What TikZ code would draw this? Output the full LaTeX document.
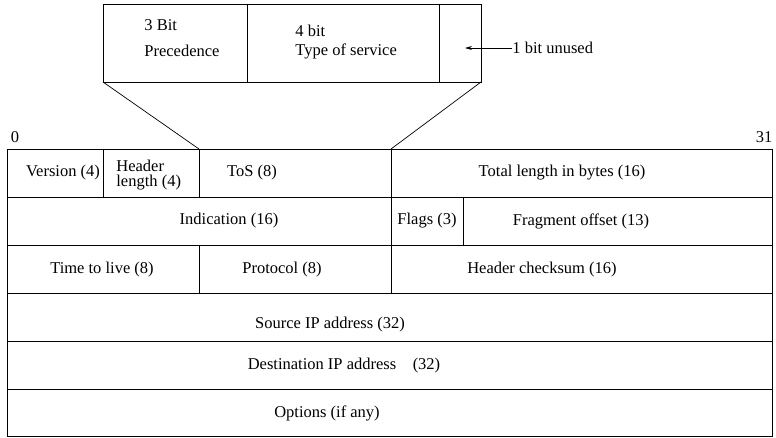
\documentclass[tikz,border=0pt]{standalone}
\usepackage{fontspec}
\setmainfont{Liberation Serif}
\newfontfamily\hdrfont{Liberation Serif}
\usetikzlibrary{arrows.meta}
\begin{document}
\begin{tikzpicture}[x=1pt,y=-1pt,line width=0.8pt,
  lbl/.style={font=\hdrfont\fontsize{16.5}{19}\selectfont, inner sep=0pt, anchor=center},
  lblw/.style={lbl, anchor=west},
  zoomline/.style={line width=0.7pt},
  pointer/.style={line width=0.8pt, -{Stealth[length=7pt,width=4pt]}}]
\useasboundingbox (0,0) rectangle (776,437);

% main header table
\draw (7,149) rectangle (772,436);
\foreach \yy in {197,245,293,341,389} \draw (7,\yy) -- (772,\yy);
\draw (103,149) -- (103,197);
\draw (199,149) -- (199,197);
\draw (391,149) -- (391,197);
\draw (391,197) -- (391,245);
\draw (463,197) -- (463,245);
\draw (199,245) -- (199,293);
\draw (391,245) -- (391,293);

% ToS expansion box
\draw (103,4) rectangle (481,82);
\draw (247,4) -- (247,82);
\draw (439,4) -- (439,82);

\coordinate (boxBL) at (103,82);
\coordinate (boxBR) at (481,82);
\coordinate (tosL) at (199,149);
\coordinate (tosR) at (391,149);
\draw[zoomline] (boxBL) -- (tosL);
\draw[zoomline] (boxBR) -- (tosR);

% labels top box
\node[lblw] (b3) at (144,25) {3 Bit};
\node[lblw] (prec) at (144,51) {Precedence};
\node[lblw] (b4) at (295,31) {4 bit};
\node[lblw] (tos4) at (295,51) {Type of service};
\node[lblw] (unused) at (512,48) {1 bit unused};
\coordinate (unusedTip) at (465,48);
\draw[pointer] (unused.west) -- (unusedTip);

% bit numbers
\node[lbl] (zero) at (15,137) {0};
\node[lbl] (thirtyone) at (764,137) {31};

% row 1
\node[lbl] (ver) at (63,173) {Version (4)};
\node[lblw] (hl1) at (116,166) {Header};
\node[lblw] (hl2) at (116,183) {length (4)};
\node[lbl] (tos) at (252,173) {ToS (8)};
\node[lbl] (tot) at (562,173) {Total length in bytes (16)};
% row 2
\node[lbl] (ind) at (229,221) {Indication (16)};
\node[lbl] (flags) at (427,221) {Flags (3)};
\node[lbl] (frag) at (581,221) {Fragment offset (13)};
% row 3
\node[lbl] (ttl) at (102,270) {Time to live (8)};
\node[lbl] (proto) at (282,270) {Protocol (8)};
\node[lbl] (chk) at (542,270) {Header checksum (16)};
% rows 4-6
\node[lbl] (src) at (330,325) {Source IP address (32)};
\node[lbl] (dst) at (344,366) {Destination IP address\quad(32)};
\node[lbl] (opt) at (327,413) {Options (if any)};
\end{tikzpicture}
\end{document}
